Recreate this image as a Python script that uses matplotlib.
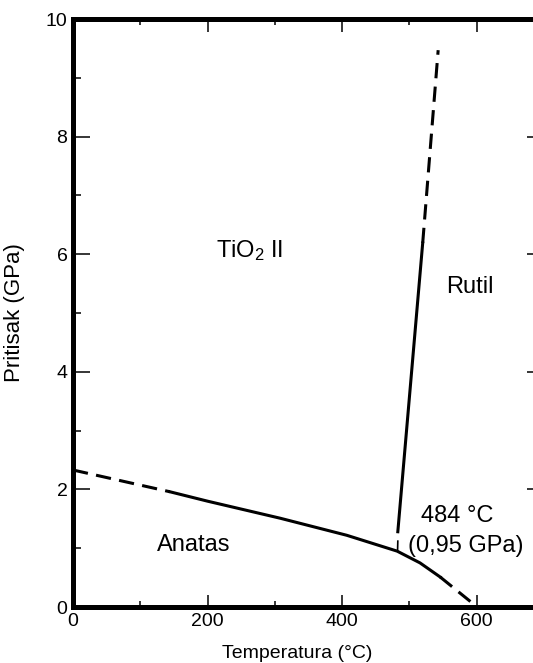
import numpy as np
import matplotlib
matplotlib.use('Agg')
import matplotlib.pyplot as plt
from matplotlib.ticker import MultipleLocator

plt.rcParams['font.family'] = ['Liberation Sans', 'DejaVu Sans']
plt.rcParams['mathtext.fontset'] = 'custom'
plt.rcParams['mathtext.rm'] = 'Liberation Sans'
plt.rcParams['mathtext.it'] = 'Liberation Sans'

# anatas / TiO2 II / rutil boundary (T in C, P in GPa)
anat_dash_t = [0, 144]
anat_dash_p = [2.33, 1.96]
anat_solid_t = [144, 200, 308, 407, 482, 516, 546]
anat_solid_p = [1.96, 1.80, 1.51, 1.22, 0.95, 0.75, 0.51]
anat_end_t = [546, 601]
anat_end_p = [0.51, 0.0]

# TiO2 II / rutil boundary
rut_solid_t = [483, 520]
rut_solid_p = [1.28, 6.19]
rut_dash_t = [520, 543]
rut_dash_p = [6.19, 9.47]
triple_t = [482.6, 483.0]
triple_p = [0.95, 1.12]

labels = [
    ('TiO$_2$ II', 263, 6.07),
    ('Rutil', 590, 5.44),
    ('Anatas', 180, 1.05),
    ('484 °C', 572, 1.55),
    ('(0,95 GPa)', 584, 1.04),
]

fig = plt.figure(figsize=(5.33, 6.63), dpi=100)
ax = fig.add_axes([73/533, 1 - 607/663, 470.75/533, 588/663])

lw = 2.2
dash = (11, 6)
plt.rcParams['lines.scale_dashes'] = False
ax.plot(anat_dash_t, anat_dash_p, color='black', lw=lw, dashes=dash)
ax.plot(anat_solid_t, anat_solid_p, color='black', lw=lw)
ax.plot(anat_end_t, anat_end_p, color='black', lw=lw, dashes=dash)
ax.plot(rut_solid_t, rut_solid_p, color='black', lw=lw)
ax.plot(rut_dash_t, rut_dash_p, color='black', lw=lw, dashes=dash)
ax.plot(triple_t, triple_p, color='black', lw=1.2)

for txt, t, p in labels:
    ax.text(t, p, txt, fontsize=17, ha='center', va='center')

ax.set_xlim(0, 700)
ax.set_ylim(0, 10)
ax.xaxis.set_major_locator(MultipleLocator(200))
ax.xaxis.set_minor_locator(MultipleLocator(100))
ax.yaxis.set_major_locator(MultipleLocator(2))
ax.yaxis.set_minor_locator(MultipleLocator(1))

for s in ax.spines.values():
    s.set_linewidth(3.6)

ax.tick_params(axis='both', which='both', direction='in', top=True, right=True,
               labelsize=14, width=1.1)
ax.tick_params(axis='x', which='major', length=9, pad=4)
ax.tick_params(axis='x', which='minor', length=4)
ax.tick_params(axis='y', which='major', length=12, pad=4)
ax.tick_params(axis='y', which='minor', length=5.5)

ax.set_xlabel('Temperatura (°C)', fontsize=14)
ax.set_ylabel('Pritisak (GPa)', fontsize=16)
ax.xaxis.set_label_coords(0.476, -0.064)
ax.yaxis.set_label_coords(-0.102, 0.5)

fig.savefig('out.png', dpi=100)
